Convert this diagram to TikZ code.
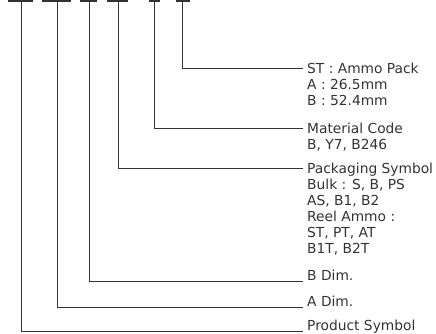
\documentclass[tikz,border=0pt]{standalone}
\usepackage{fontspec}
\setmainfont{DejaVu Sans}
\begin{document}
\begin{tikzpicture}[
  x=1pt,y=-1pt,
  font=\fontsize{13.8}{16}\selectfont,
  lbl/.style={anchor=base west,align=left,inner sep=0pt,text=black!80},
  lblm/.style={lbl,anchor=north west},
  ln/.style={line width=0.9pt,color=black!80},
  bar/.style={line width=1.3pt,color=black!80}
]
  \useasboundingbox (0,0) rectangle (436,333);
  % marks along the top
  \foreach \n/\xa/\xm/\xb in {1/8/21/33,2/42/57/71,3/80/89/97,4/107/118/128,5/149/154/160,6/176/182/190}{
    \coordinate (t\n) at (\xm,1);
    \draw[bar] (\xa,1) -- (\xb,1);
  }
  % line ends
  \foreach \n/\y in {1/331.5,2/307,3/281.5,4/168,5/128,6/68}
    \coordinate (e\n) at (303,\y);
  \node[lblm] (l6) at ([shift={(4,-5.5)}]e6) {ST : Ammo Pack\\A : 26.5mm\\B : 52.4mm};
  \node[lblm] (l5) at ([shift={(4,-5.5)}]e5) {Material Code\\B, Y7, B246};
  \node[lblm] (l4) at ([shift={(4,-5.5)}]e4) {Packaging Symbol\\Bulk : S, B, PS\\AS, B1, B2\\Reel Ammo :\\ST, PT, AT\\B1T, B2T};
  \node[lbl] (l3) at ([shift={(4,-1)}]e3) {B Dim.};
  \node[lbl] (l2) at ([shift={(4,-1)}]e2) {A Dim.};
  \node[lbl] (l1) at ([shift={(4,-1)}]e1) {Product Symbol};
  \foreach \n in {1,...,6}
    \draw[ln] (t\n) |- (e\n);
\end{tikzpicture}
\end{document}
